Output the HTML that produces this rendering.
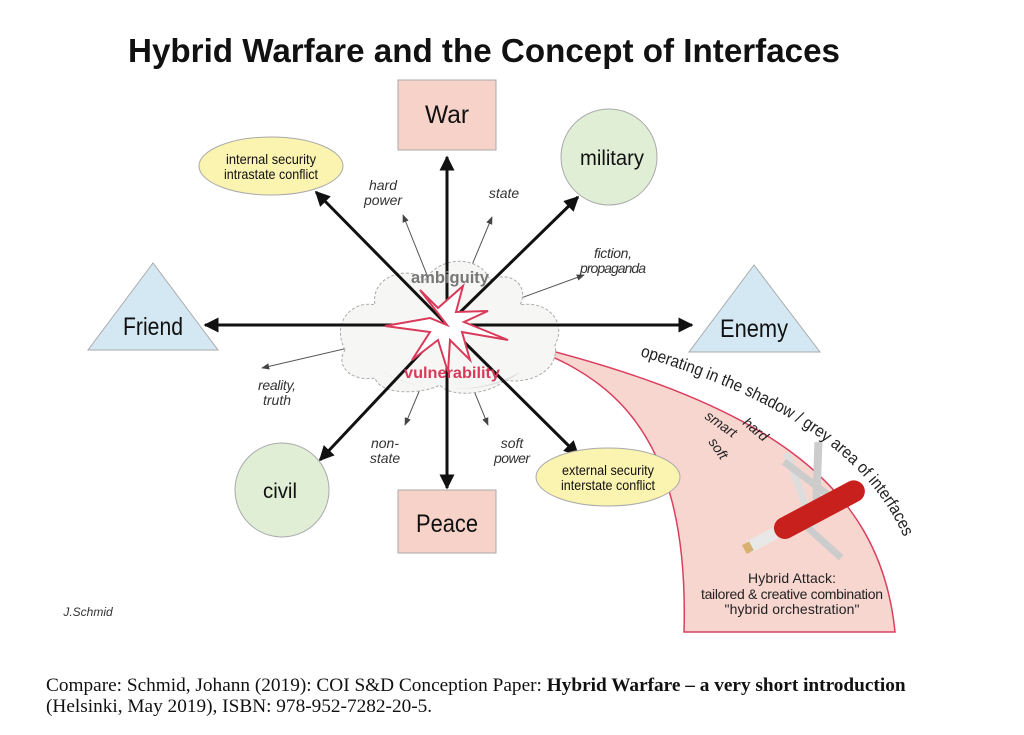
<!DOCTYPE html>
<html><head><meta charset="utf-8"><style>
body{margin:0;background:#fff;width:1024px;height:735px;overflow:hidden;font-family:"Liberation Sans",sans-serif}
svg{position:absolute;left:0;top:0}
.foot{position:absolute;left:46px;top:675px;font-family:"Liberation Serif",serif;font-size:19.3px;line-height:21px;color:#111;white-space:nowrap}
</style></head><body>
<svg width="1024" height="735" viewBox="0 0 1024 735" font-family="Liberation Sans, sans-serif">
<defs>
<marker id="a" viewBox="0 0 10 10" refX="9" refY="5" markerWidth="5" markerHeight="5" orient="auto"><path d="M0,0L10,5L0,10z" fill="#111"/></marker>
<marker id="b" viewBox="0 0 10 10" refX="9" refY="5" markerWidth="8" markerHeight="8" orient="auto"><path d="M0,1L10,5L0,9z" fill="#444"/></marker>
</defs>
<text x="484" y="62" text-anchor="middle" font-size="33" font-weight="bold" fill="#111" textLength="712" lengthAdjust="spacingAndGlyphs">Hybrid Warfare and the Concept of Interfaces</text>
<!-- swoosh -->
<path d="M508,340 C600,370 690,420 684,632 L895,632 C880,480 760,400 508,340Z" fill="#f7d6d0" stroke="#d94060" stroke-width="1.5"/>
<g stroke="#555" stroke-width="1" marker-end="url(#b)">
<line x1="447" y1="325" x2="403" y2="215"/><line x1="447" y1="325" x2="492" y2="217"/>
<line x1="447" y1="325" x2="584" y2="275"/><line x1="447" y1="325" x2="262" y2="368"/>
<line x1="447" y1="325" x2="405" y2="425"/><line x1="447" y1="325" x2="488" y2="425"/>
</g>
<path d="M345,350 C330,320 355,300 375,305 C370,275 410,265 425,280 C440,255 480,255 490,280 C510,270 530,285 520,305 C545,300 568,320 555,345 C560,370 530,385 505,380 C490,395 450,398 440,385 C420,395 380,395 375,378 C350,382 335,365 345,350Z" fill="#f6f6f4" stroke="#aaa" stroke-dasharray="3,2"/>
<path d="M380,370 C420,395 480,395 520,372 C500,392 420,398 380,370Z" fill="#ddd"/>
<g stroke="#111" stroke-width="3" marker-end="url(#a)">
<line x1="447" y1="325" x2="447" y2="157"/><line x1="447" y1="325" x2="447" y2="488"/>
<line x1="447" y1="325" x2="205" y2="325"/><line x1="447" y1="325" x2="692" y2="325"/>
<line x1="447" y1="325" x2="316" y2="192"/><line x1="447" y1="325" x2="578" y2="197"/>
<line x1="447" y1="325" x2="320" y2="460"/><line x1="447" y1="325" x2="578" y2="455"/>
</g>
<path d="M447,325 L420,290 L438,308 L463,286 L456,312 L488,311 L464,322 L508,340 L462,332 L470,360 L450,340 L448,372 L438,340 L412,360 L430,332 L385,326 L430,318Z" fill="#fff" stroke="#d93a5a" stroke-width="2"/>
<text x="450" y="283" text-anchor="middle" font-size="17" font-weight="bold" fill="#777" textLength="78" lengthAdjust="spacingAndGlyphs">ambiguity</text>
<text x="452" y="378" text-anchor="middle" font-size="16" fill="#d93a5a" font-weight="bold" textLength="96" lengthAdjust="spacingAndGlyphs">vulnerability</text>
<rect x="398" y="80" width="98" height="70" fill="#f6d2c8" stroke="#aaa"/>
<text x="447" y="123" text-anchor="middle" font-size="25" fill="#111" textLength="44" lengthAdjust="spacingAndGlyphs">War</text>
<rect x="398" y="490" width="98" height="63" fill="#f6d2c8" stroke="#aaa"/>
<text x="447" y="532" text-anchor="middle" font-size="25" fill="#111" textLength="62" lengthAdjust="spacingAndGlyphs">Peace</text>
<path d="M153,263 L88,350 L218,350Z" fill="#d4e8f4" stroke="#aaa"/>
<text x="153" y="335" text-anchor="middle" font-size="25" fill="#111" textLength="60" lengthAdjust="spacingAndGlyphs">Friend</text>
<path d="M754,265 L689,352 L820,352Z" fill="#d4e8f4" stroke="#aaa"/>
<text x="754" y="337" text-anchor="middle" font-size="25" fill="#111" textLength="68" lengthAdjust="spacingAndGlyphs">Enemy</text>
<circle cx="609" cy="157" r="48" fill="#e0eed6" stroke="#aaa"/>
<text x="612" y="165" text-anchor="middle" font-size="21" fill="#111" textLength="64" lengthAdjust="spacingAndGlyphs">military</text>
<circle cx="282" cy="490" r="47" fill="#e0eed6" stroke="#aaa"/>
<text x="280" y="498" text-anchor="middle" font-size="21" fill="#111" textLength="34" lengthAdjust="spacingAndGlyphs">civil</text>
<ellipse cx="271" cy="166" rx="72" ry="29" fill="#fbf3b0" stroke="#aaa"/>
<text x="271" y="164" text-anchor="middle" font-size="14" fill="#111" textLength="90" lengthAdjust="spacingAndGlyphs">internal security</text>
<text x="271" y="179" text-anchor="middle" font-size="14" fill="#111" textLength="94" lengthAdjust="spacingAndGlyphs">intrastate conflict</text>
<ellipse cx="608" cy="477" rx="72" ry="29" fill="#fbf3b0" stroke="#aaa"/>
<text x="608" y="475" text-anchor="middle" font-size="14" fill="#111" textLength="92" lengthAdjust="spacingAndGlyphs">external security</text>
<text x="608" y="490" text-anchor="middle" font-size="14" fill="#111" textLength="94" lengthAdjust="spacingAndGlyphs">interstate conflict</text>
<g font-style="italic" font-size="14" fill="#333" text-anchor="middle" lengthAdjust="spacingAndGlyphs">
<text x="383" y="190">hard</text><text x="383" y="205" textLength="38">power</text>
<text x="504" y="198">state</text>
<text x="613" y="258" textLength="38">fiction,</text><text x="613" y="273" textLength="66">propaganda</text>
<text x="277" y="390" textLength="38">reality,</text><text x="277" y="405">truth</text>
<text x="385" y="448">non-</text><text x="385" y="463">state</text>
<text x="512" y="448">soft</text><text x="512" y="463" textLength="36">power</text>
<text x="88" y="616" font-size="12">J.Schmid</text>
</g>
<path id="arc" d="M640,356 C760,392 880,450 912,560" fill="none"/>
<text font-size="17" fill="#222"><textPath href="#arc" textLength="330" lengthAdjust="spacingAndGlyphs">operating in the shadow / grey area of interfaces</textPath></text>
<g font-size="14" fill="#222" font-style="italic">
<text transform="translate(742,424) rotate(40)">hard</text>
<text transform="translate(704,418) rotate(35)">smart</text>
<text transform="translate(708,442) rotate(55)">soft</text>
</g>
<g transform="translate(815,512) rotate(-28)">
<rect x="-3" y="-70" width="8" height="70" fill="#ccc" transform="rotate(30)"/>
<rect x="-10" y="-65" width="7" height="80" fill="#ddd" transform="rotate(8)"/>
<rect x="18" y="-55" width="7" height="70" fill="#ccc" transform="rotate(-25)"/>
<rect x="-20" y="0" width="7" height="50" fill="#ccc" transform="rotate(-20)"/>
<rect x="-75" y="-6" width="30" height="12" fill="#e8e8e8"/>
<rect x="-80" y="-5" width="8" height="10" fill="#d8b070"/>
<rect x="-45" y="-11" width="100" height="22" rx="11" fill="#c8201c"/>
</g>
<g font-size="14" fill="#222" text-anchor="middle" lengthAdjust="spacingAndGlyphs">
<text x="792" y="583" textLength="88">Hybrid Attack:</text>
<text x="792" y="599" textLength="182">tailored &amp; creative combination</text>
<text x="792" y="614" textLength="135">"hybrid orchestration"</text>
</g>
</svg>
<div class="foot">Compare: Schmid, Johann (2019): COI S&amp;D Conception Paper: <b>Hybrid Warfare – a very short introduction</b><br>(Helsinki, May 2019), ISBN: 978-952-7282-20-5.</div>
</body></html>
